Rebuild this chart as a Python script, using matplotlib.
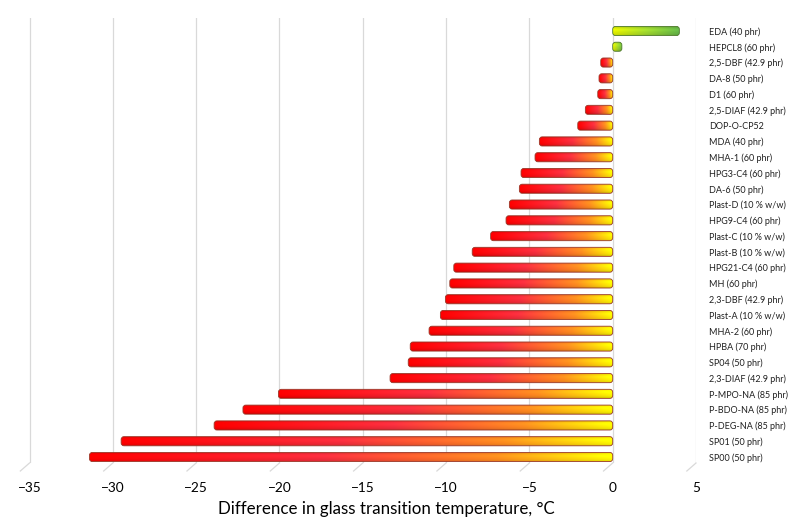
import numpy as np
import matplotlib
matplotlib.use("Agg")
import matplotlib.pyplot as plt
from matplotlib.patches import FancyBboxPatch
from matplotlib.lines import Line2D

plt.rcParams['font.family'] = ['Lato', 'DejaVu Sans']

categories = [
    "EDA (40 phr)", "HEPCL8 (60 phr)", "2,5-DBF (42.9 phr)", "DA-8 (50 phr)",
    "D1 (60 phr)", "2,5-DIAF (42.9 phr)", "DOP-O-CP52", "MDA (40 phr)",
    "MHA-1 (60 phr)", "HPG3-C4 (60 phr)", "DA-6 (50 phr)", "Plast-D (10 % w/w)",
    "HPG9-C4 (60 phr)", "Plast-C (10 % w/w)", "Plast-B (10 % w/w)",
    "HPG21-C4 (60 phr)", "MH (60 phr)", "2,3-DBF (42.9 phr)", "Plast-A (10 % w/w)",
    "MHA-2 (60 phr)", "HPBA (70 phr)", "SP04 (50 phr)", "2,3-DIAF (42.9 phr)",
    "P-MPO-NA (85 phr)", "P-BDO-NA (85 phr)", "P-DEG-NA (85 phr)",
    "SP01 (50 phr)", "SP00 (50 phr)",
]
values = [
    4.0, 0.55, -0.72, -0.82,
    -0.9, -1.64, -2.1, -4.4,
    -4.66, -5.5, -5.6, -6.2,
    -6.4, -7.33, -8.43,
    -9.54, -9.78, -10.04, -10.34,
    -11.02, -12.15, -12.27, -13.36,
    -20.06, -22.19, -23.92,
    -29.5, -31.4,
]
x_ticks = [-35, -30, -25, -20, -15, -10, -5, 0, 5]
x_label = "Difference in glass transition temperature, °C"

fig = plt.figure(figsize=(7.92, 5.23), dpi=100)
ax = fig.add_axes([29.5 / 792, 60 / 523, 666.5 / 792, 445 / 523])

ax.set_xlim(-35, 5)
ax.set_ylim(27.38, -0.824)

for v in x_ticks:
    ax.axvline(v, color='#D9D9D9', lw=0.9, zorder=0)
    ax.add_line(Line2D([v, v - 0.55], [0, -0.018], transform=ax.get_xaxis_transform(),
                       color='#D9D9D9', lw=0.9, clip_on=False, zorder=0))

neg_stops = [(0.0, (1.0, 0.0, 0.0)), (0.45, (0.96, 0.18, 0.24)),
             (0.78, (1.0, 0.55, 0.12)), (1.0, (1.0, 0.98, 0.0))]
pos_stops = [(0.0, (0.88, 0.93, 0.0)), (0.5, (0.62, 0.84, 0.18)),
             (1.0, (0.38, 0.70, 0.28))]


def grad(stops, n):
    t = np.linspace(0, 1, n)
    pos = [s[0] for s in stops]
    cols = np.array([s[1] for s in stops])
    return np.stack([np.interp(t, pos, cols[:, k]) for k in range(3)], axis=1)


ny, nx = 24, 256
yy = np.linspace(-1, 1, ny)
profile = 0.78 + 0.22 * np.sqrt(np.clip(1 - yy ** 2, 0, 1))
profile = profile + 0.08 * np.exp(-((yy + 0.3) / 0.35) ** 2)

bar_h = 0.58
bars = ax.barh(np.arange(len(categories)), values, height=bar_h, color='none',
               edgecolor='none')
for i, (b, v) in enumerate(zip(bars, values)):
    x0 = min(0, v)
    w = abs(v)
    yc = i
    if v < 0:
        row = grad(neg_stops, nx)
        edge = '#9A3A2A'
    else:
        row = grad(pos_stops, nx)
        edge = '#4F7A2A'
    img = np.clip(row[None, :, :] * profile[:, None, None], 0, 1)
    patch = FancyBboxPatch((x0, yc - bar_h / 2), w, bar_h,
                           boxstyle="round,pad=0,rounding_size=0.17",
                           mutation_aspect=1.05,
                           facecolor='none', edgecolor=edge, lw=0.6, zorder=3)
    ax.add_patch(patch)
    im = ax.imshow(img, extent=[x0, x0 + w, yc + bar_h / 2, yc - bar_h / 2],
                   aspect='auto', interpolation='bilinear', zorder=2)
    im.set_clip_path(patch)

ax.set_xlim(-35, 5)
ax.set_ylim(27.38, -0.824)
ax.set_aspect('auto')

ax.set_xticks(x_ticks)
ax.set_xticklabels([("\u2212" + str(abs(t))) if t < 0 else str(t) for t in x_ticks])
ax.tick_params(axis='x', length=0, pad=14, labelsize=9.8, labelcolor='#000000')

ax.set_yticks(np.arange(len(categories)))
ax.set_yticklabels(categories)
ax.yaxis.tick_right()
ax.tick_params(axis='y', length=0, pad=9.5, labelsize=6.5, labelcolor='#202020')

for s in ax.spines.values():
    s.set_visible(False)

ax.set_xlabel(x_label, fontsize=12.2, color='#000000', va='center')
ax.xaxis.set_label_coords((386 - 29.5) / 666.5, -(509 - 463) / 445)

fig.savefig("out.png", dpi=100)
